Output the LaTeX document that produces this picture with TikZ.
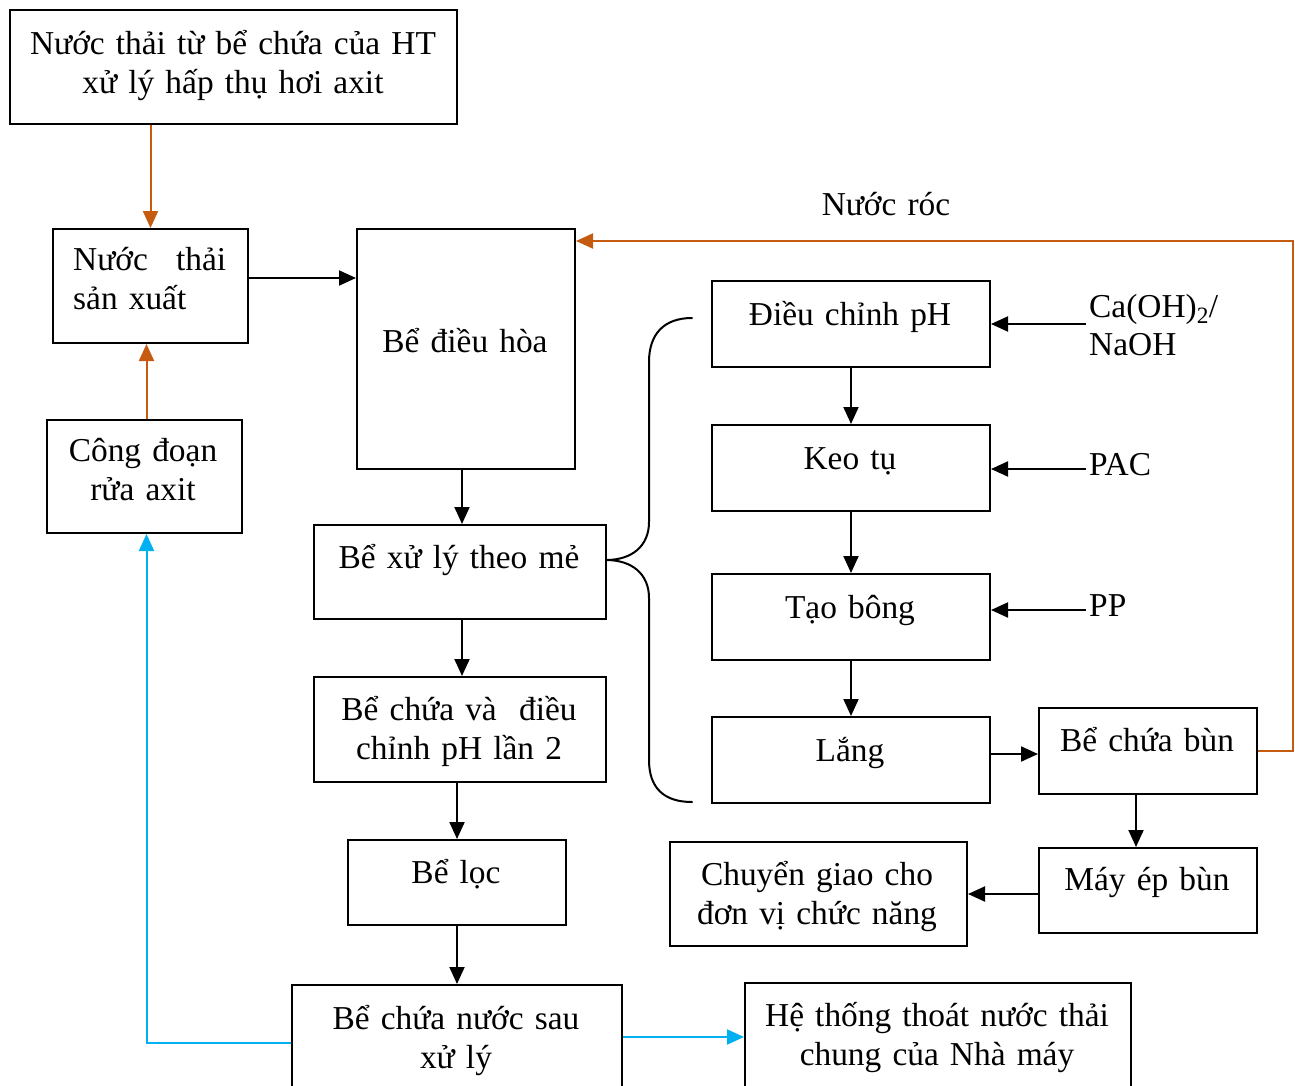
\documentclass[tikz,border=0pt]{standalone}
\usepackage{fontspec}
\setmainfont{Liberation Serif}
\usetikzlibrary{arrows.meta,calc}
\definecolor{flowOrange}{HTML}{C55A11}
\definecolor{flowBlue}{HTML}{00B0F0}

\begin{document}
\begin{tikzpicture}[x=1pt,y=-1pt,
  box/.style={draw, line width=2pt, inner sep=0pt, anchor=north west},
  txt/.style={anchor=base, inner sep=0pt, align=center, text width=460pt,
    font=\fontsize{33.4}{39}\selectfont},
  ltxt/.style={anchor=base west, inner sep=0pt, align=left, text width=#1,
    font=\fontsize{33.4}{39}\selectfont},
  reag/.style={anchor=base west, inner xsep=3pt, inner ysep=0pt, align=left,
    text width=200pt, font=\fontsize{33.4}{38}\selectfont},
  arr/.style={line width=2pt, -{Triangle[length=17pt,width=15pt]}},
  oarr/.style={arr, draw=flowOrange, -{Triangle[length=17pt,width=15pt,fill=flowOrange]}},
  barr/.style={arr, draw=flowBlue, -{Triangle[length=17pt,width=15pt,fill=flowBlue]}},
  brace/.style={line width=2pt, line cap=round}]

\clip (0,0) rectangle (1295,1086);
\fill[white] (0,0) rectangle (1295,1086);

% process boxes
\node[box, minimum width=447pt, minimum height=114pt] (top) at (9,9) {};
\node[box, minimum width=195pt, minimum height=114pt] (ntsx) at (52,228) {};
\node[box, minimum width=195pt, minimum height=113pt] (cd) at (46,419) {};
\node[box, minimum width=218pt, minimum height=240pt] (dh) at (356,228) {};
\node[box, minimum width=292pt, minimum height=94pt] (xl) at (313,524) {};
\node[box, minimum width=292pt, minimum height=105pt] (cv) at (313,676) {};
\node[box, minimum width=218pt, minimum height=85pt] (loc) at (347,839) {};
\node[box, minimum width=330pt, minimum height=116pt] (cn) at (291,984) {};
\node[box, minimum width=278pt, minimum height=86pt] (dc) at (711,280) {};
\node[box, minimum width=278pt, minimum height=86pt] (kt) at (711,424) {};
\node[box, minimum width=278pt, minimum height=86pt] (tb) at (711,573) {};
\node[box, minimum width=278pt, minimum height=86pt] (lg) at (711,716) {};
\node[box, minimum width=218pt, minimum height=86pt] (cb) at (1038,707) {};
\node[box, minimum width=218pt, minimum height=85pt] (mep) at (1038,847) {};
\node[box, minimum width=297pt, minimum height=104pt] (cg) at (669,841) {};
\node[box, minimum width=386pt, minimum height=118pt] (ht) at (744,982) {};

% box texts
\node[txt] (ttop) at (233,55) {Nước thải từ bể chứa của HT\\xử lý hấp thụ hơi axit};
\node[ltxt=153pt] (tntsx) at (73,270) {Nước\hfill thải\\sản xuất};
\node[txt] (tcd) at (143,461) {Công đoạn\\rửa axit};
\node[txt] (tdh) at (465,352) {Bể điều hòa};
\node[txt] (txl) at (459,568) {Bể xử lý theo mẻ};
\node[txt] (tcv) at (459,720) {Bể chứa và\ \ điều\\chỉnh pH lần 2};
\node[txt] (tloc) at (456,883) {Bể lọc};
\node[txt] (tcn) at (456,1029) {Bể chứa nước sau\\xử lý};
\node[txt] (tdc) at (850,325) {Điều chỉnh pH};
\node[txt] (tkt) at (850,469) {Keo tụ};
\node[txt] (ttb) at (850,618) {Tạo bông};
\node[txt] (tlg) at (850,761) {Lắng};
\node[txt] (tcb) at (1147,751) {Bể chứa bùn};
\node[txt] (tmep) at (1147,890) {Máy ép bùn};
\node[txt] (tcg) at (817,885) {Chuyển giao cho\\đơn vị chức năng};
\node[txt] (tht) at (937,1026) {Hệ thống thoát nước thải\\chung của Nhà máy};

% chemical dosing labels
\node[reag] (ca) at (1086,317) {Ca(OH)\textsubscript{2}/\\NaOH};
\node[reag] (pac) at (1086,475) {PAC};
\node[reag] (pp) at (1086,616) {PP};

% recycle label
\node[txt] (nr) at (886,215) {Nước róc};
\coordinate (rr) at (1293,241);

% main line
\draw[oarr] (ntsx.north |- top.south) -- (ntsx.north);
\draw[oarr] ([xshift=2pt]cd.north) -- ([xshift=2pt]cd.north |- ntsx.south);
\draw[arr] ([yshift=8pt]ntsx.east) -- ([yshift=8pt]ntsx.east -| dh.west);
\draw[arr] ([xshift=2pt]xl.north |- dh.south) -- ([xshift=2pt]xl.north);
\draw[arr] ([xshift=2pt]xl.south) -- ([xshift=2pt]xl.south |- cv.north);
\draw[arr] (loc.north |- cv.south) -- (loc.north);
\draw[arr] (loc.south) -- (loc.south |- cn.north);

% batch treatment steps
\draw[arr] (dc.south) -- (kt.north);
\draw[arr] (kt.south) -- (tb.north);
\draw[arr] (tb.south) -- (lg.north);
\draw[arr] (dc.east -| ca.west) -- (dc.east);
\draw[arr] ([yshift=-1pt]kt.east -| pac.west) -- ([yshift=-1pt]kt.east);
\draw[arr] ([yshift=7pt]tb.east -| pp.west) -- ([yshift=7pt]tb.east);

% sludge line
\draw[arr] ([yshift=6pt]lg.east) -- ([yshift=6pt]lg.east -| cb.west);
\draw[arr] ([xshift=-12pt]cb.south) -- ([xshift=-12pt]cb.south |- mep.north);
\draw[arr] (cg.east -| mep.west) -- (cg.east);
\draw[oarr] (cb.east) -| (rr) -- (rr -| dh.east);

% treated water
\draw[barr] (cn.west) -| ([xshift=2pt]cd.south);
\draw[barr] ([yshift=6pt]cn.east) -- ([yshift=6pt]cn.east -| ht.west);

% brace grouping the batch steps
\draw[brace] (692,318) .. controls (664,318) and (649,334) .. (649,362)
  -- (649,522) .. controls (649,546) and (632,560) .. (606,560)
  .. controls (632,560) and (649,574) .. (649,598)
  -- (649,760) .. controls (649,788) and (664,802) .. (692,802);
\end{tikzpicture}
\end{document}
